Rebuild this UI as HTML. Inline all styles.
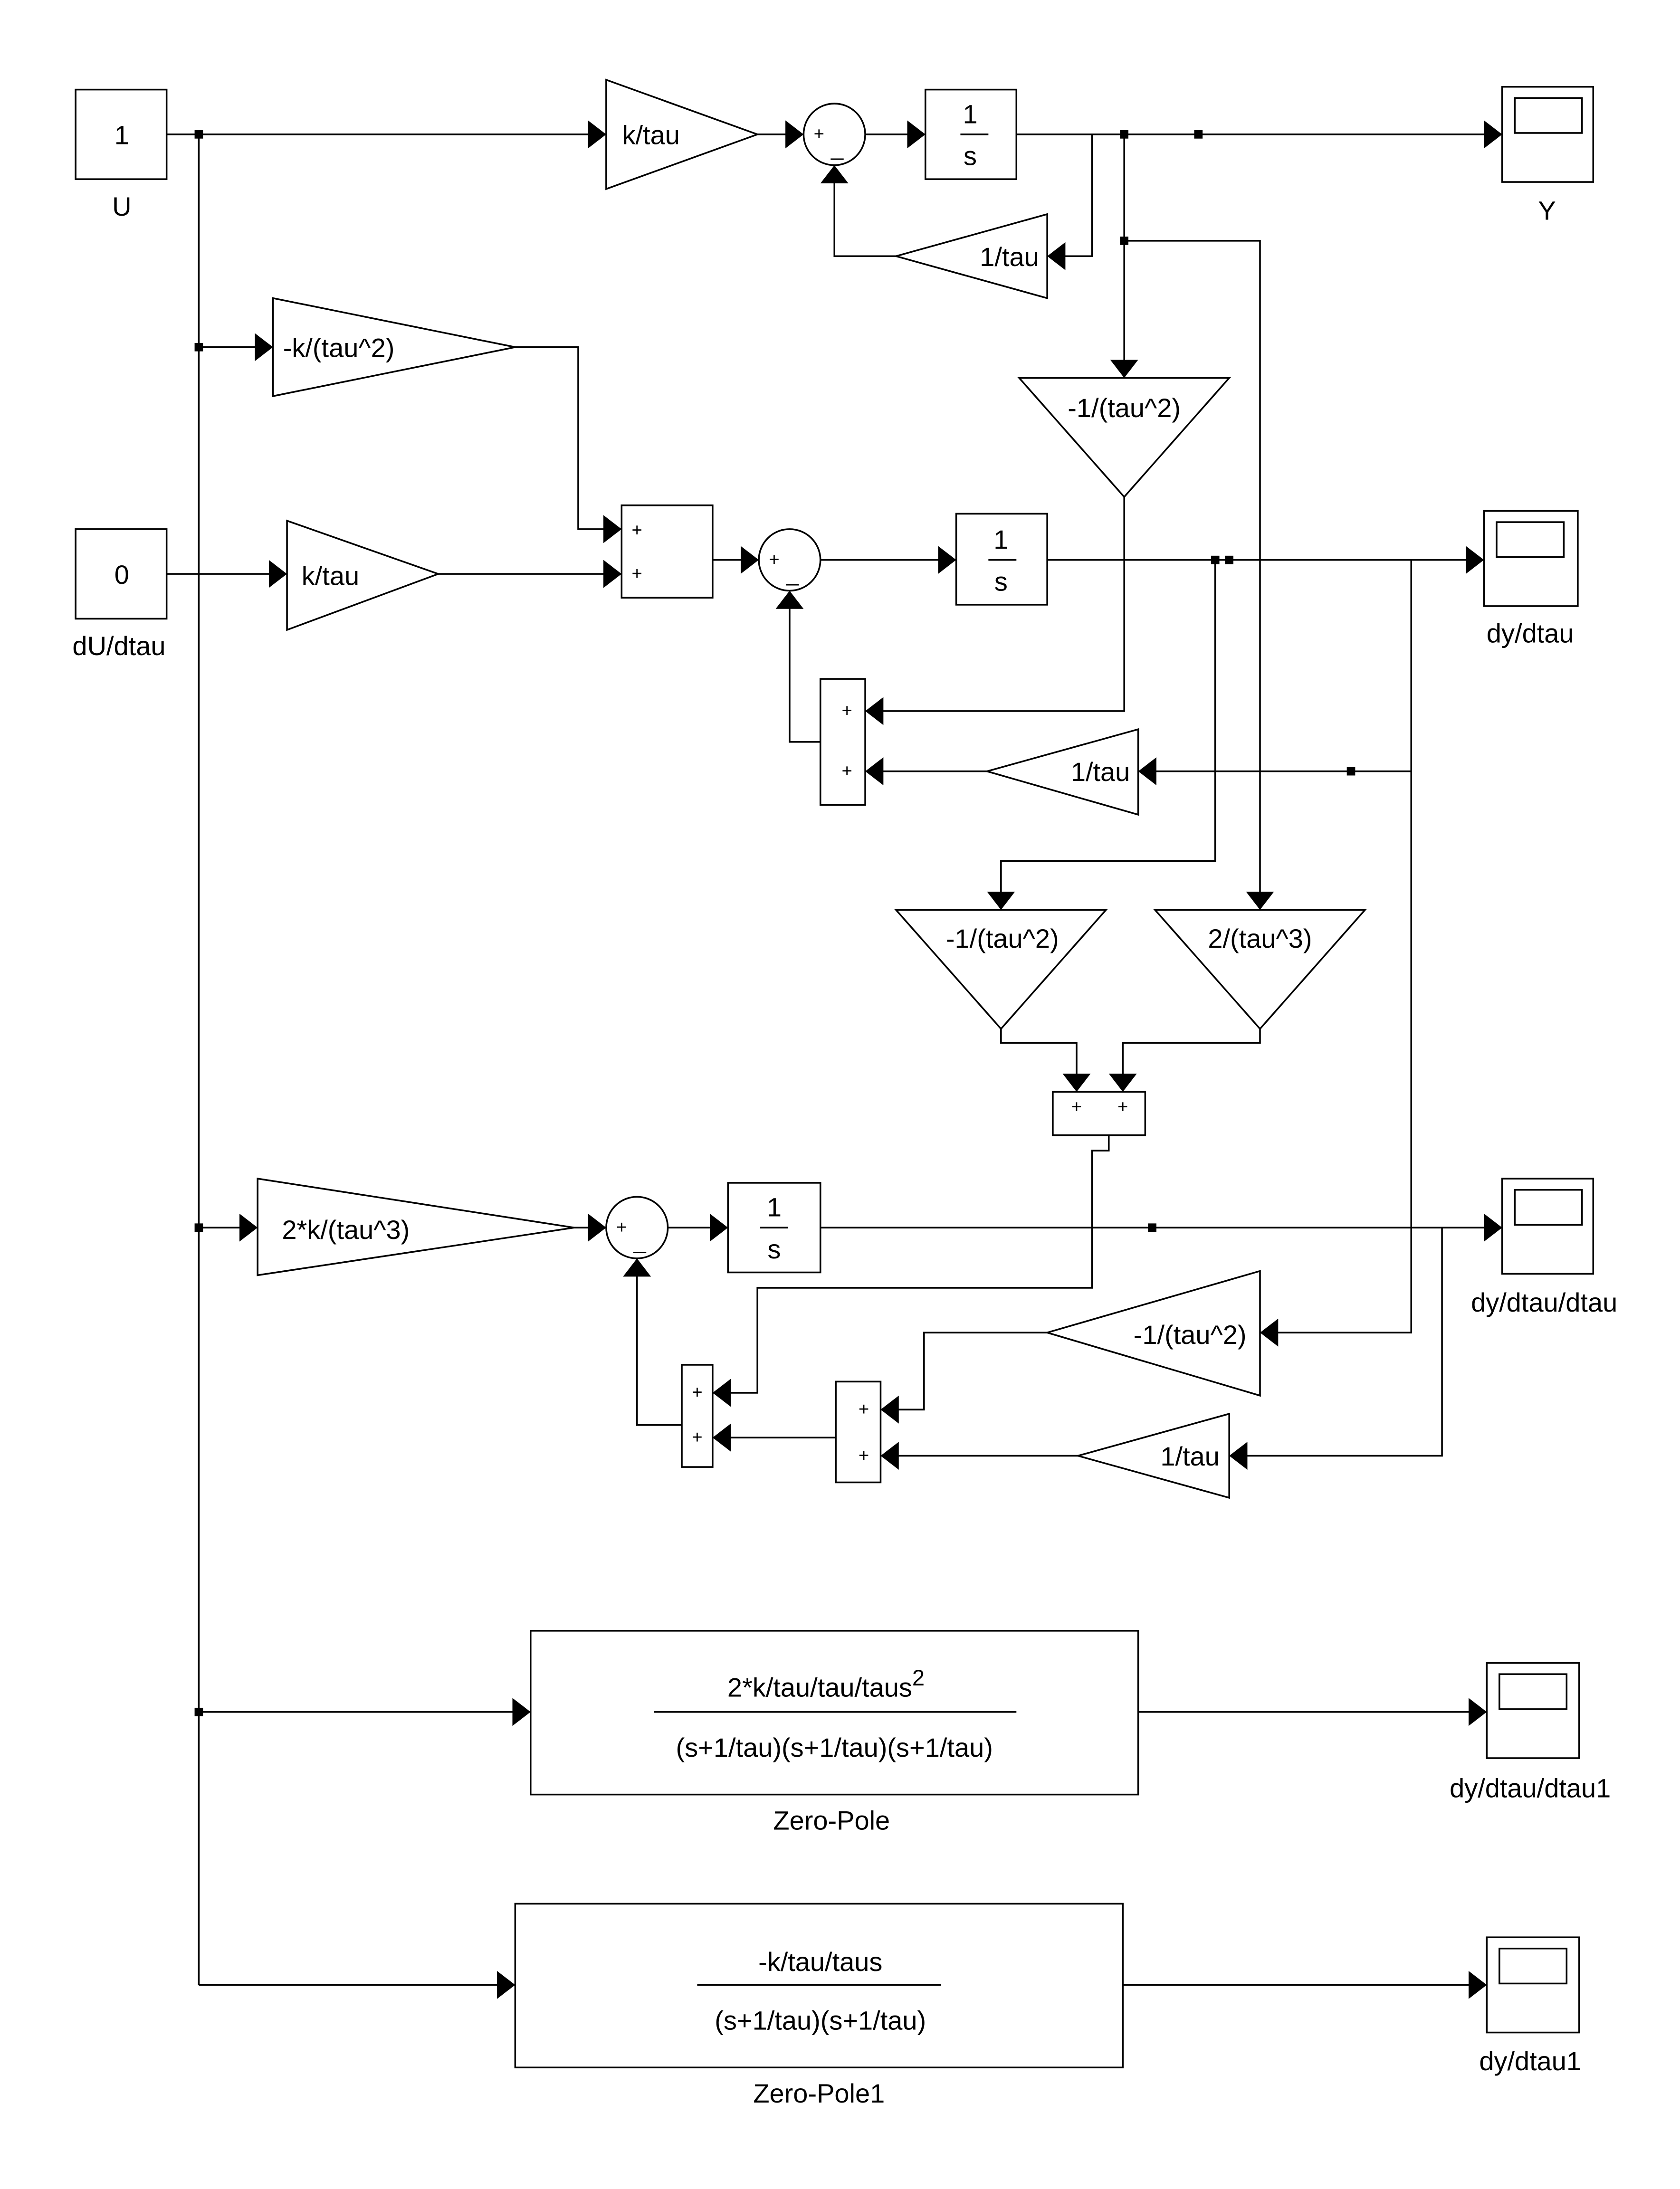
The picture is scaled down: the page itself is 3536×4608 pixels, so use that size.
<!DOCTYPE html>
<html><head><meta charset="utf-8"><style>html,body{margin:0;padding:0;background:#fff}svg{display:block}</style></head>
<body>
<svg xmlns="http://www.w3.org/2000/svg" width="3536" height="4608" viewBox="0 0 1200 1563.8">
<defs>
<marker id="a" markerUnits="userSpaceOnUse" markerWidth="14" markerHeight="20" refX="13" refY="10" orient="auto"><path d="M0,0 L13,10 L0,20z" fill="#000"/></marker>
</defs>
<rect width="1200" height="1563.8" fill="#fff"/>
<g fill="none" stroke="#000" stroke-width="1.2">
<!-- blocks -->
<rect x="54" y="64" width="65" height="64"/>
<rect x="54" y="378" width="65" height="64"/>
<polygon points="433,57 433,135 541,96"/>
<circle cx="596" cy="96" r="22"/>
<rect x="661" y="64" width="65" height="64"/>
<rect x="1073" y="62" width="65" height="68"/><rect x="1082" y="70" width="48" height="25"/>
<polygon points="748,153 748,213 640,183"/>
<polygon points="728,270 878,270 803,355"/>
<polygon points="195,213 195,283 368,248"/>
<rect x="444" y="361" width="65" height="66"/>
<polygon points="205,372 205,450 313,410"/>
<circle cx="564" cy="400" r="22"/>
<rect x="683" y="367" width="65" height="65"/>
<rect x="1060" y="365" width="67" height="68"/><rect x="1069" y="373" width="48" height="25"/>
<rect x="586" y="485" width="32" height="90"/>
<polygon points="813,521 813,582 705,551"/>
<polygon points="640,650 790,650 715,735"/>
<polygon points="825,650 975,650 900,735"/>
<rect x="752" y="780" width="66" height="31"/>
<polygon points="184,842 184,911 410,877"/>
<circle cx="455" cy="877" r="22"/>
<rect x="520" y="845" width="66" height="64"/>
<rect x="1073" y="842" width="65" height="68"/><rect x="1082" y="850" width="48" height="25"/>
<polygon points="900,908 900,997 748,952"/>
<rect x="487" y="975" width="22" height="73"/>
<rect x="597" y="987" width="32" height="72"/>
<polygon points="878,1010 878,1070 770,1040"/>
<rect x="379" y="1165" width="434" height="117"/>
<rect x="1062" y="1188" width="66" height="68"/><rect x="1071" y="1196" width="48" height="25"/>
<rect x="368" y="1360" width="434" height="117"/>
<rect x="1062" y="1384" width="66" height="68"/><rect x="1071" y="1392" width="48" height="25"/>
<!-- fraction lines -->
<line x1="686" y1="96" x2="706" y2="96"/><line x1="706" y1="400" x2="726" y2="400"/><line x1="543" y1="877" x2="563" y2="877"/>
<line x1="467" y1="1223" x2="726" y2="1223"/><line x1="498" y1="1418" x2="672" y2="1418"/>
<!-- wires -->
<line x1="142" y1="96" x2="142" y2="1418"/>
<polyline points="119,96 433,96" marker-end="url(#a)"/>
<polyline points="541,96 574,96" marker-end="url(#a)"/>
<polyline points="618,96 661,96" marker-end="url(#a)"/>
<polyline points="726,96 1073,96" marker-end="url(#a)"/>
<polyline points="780,96 780,183 748,183" marker-end="url(#a)"/>
<polyline points="640,183 596,183 596,118" marker-end="url(#a)"/>
<polyline points="803,96 803,270" marker-end="url(#a)"/>
<polyline points="803,172 900,172 900,650" marker-end="url(#a)"/>
<polyline points="142,248 195,248" marker-end="url(#a)"/>
<polyline points="368,248 413,248 413,378 444,378" marker-end="url(#a)"/>
<polyline points="119,410 205,410" marker-end="url(#a)"/>
<polyline points="313,410 444,410" marker-end="url(#a)"/>
<polyline points="509,400 542,400" marker-end="url(#a)"/>
<polyline points="586,400 683,400" marker-end="url(#a)"/>
<polyline points="748,400 1060,400" marker-end="url(#a)"/>
<polyline points="586,530 564,530 564,422" marker-end="url(#a)"/>
<polyline points="803,355 803,508 618,508" marker-end="url(#a)"/>
<polyline points="1008,400 1008,952 900,952" marker-end="url(#a)"/>
<polyline points="1008,551 813,551" marker-end="url(#a)"/>
<polyline points="705,551 618,551" marker-end="url(#a)"/>
<polyline points="868,400 868,615 715,615 715,650" marker-end="url(#a)"/>
<polyline points="715,735 715,745 769,745 769,780" marker-end="url(#a)"/>
<polyline points="900,735 900,745 802,745 802,780" marker-end="url(#a)"/>
<polyline points="792,811 792,822 780,822 780,920 541,920 541,995 509,995" marker-end="url(#a)"/>
<polyline points="142,877 184,877" marker-end="url(#a)"/>
<polyline points="410,877 433,877" marker-end="url(#a)"/>
<polyline points="477,877 520,877" marker-end="url(#a)"/>
<polyline points="586,877 1073,877" marker-end="url(#a)"/>
<polyline points="487,1018 455,1018 455,899" marker-end="url(#a)"/>
<polyline points="748,952 660,952 660,1007 629,1007" marker-end="url(#a)"/>
<polyline points="1030,877 1030,1040 878,1040" marker-end="url(#a)"/>
<polyline points="770,1040 629,1040" marker-end="url(#a)"/>
<polyline points="597,1027 509,1027" marker-end="url(#a)"/>
<polyline points="142,1223 379,1223" marker-end="url(#a)"/>
<polyline points="813,1223 1062,1223" marker-end="url(#a)"/>
<polyline points="142,1418 368,1418" marker-end="url(#a)"/>
<polyline points="802,1418 1062,1418" marker-end="url(#a)"/>
</g>
<g fill="#000">
<rect x="139" y="93" width="6" height="6"/><rect x="139" y="245" width="6" height="6"/><rect x="139" y="874" width="6" height="6"/><rect x="139" y="1220" width="6" height="6"/>
<rect x="800" y="93" width="6" height="6"/><rect x="853" y="93" width="6" height="6"/><rect x="800" y="169" width="6" height="6"/>
<rect x="865" y="397" width="6" height="6"/><rect x="875" y="397" width="6" height="6"/><rect x="962" y="548" width="6" height="6"/><rect x="820" y="874" width="6" height="6"/>
</g>
<g font-family="Liberation Sans, sans-serif" font-size="19" fill="#000" text-anchor="middle">
<text x="87" y="103">1</text><text x="87" y="154">U</text>
<text x="87" y="417">0</text><text x="85" y="468">dU/dtau</text>
<text x="465" y="103">k/tau</text>
<text x="693" y="88">1</text><text x="693" y="118">s</text>
<text x="1105" y="157">Y</text>
<text x="721" y="190">1/tau</text>
<text x="242" y="255">-k/(tau^2)</text>
<text x="236" y="418">k/tau</text>
<text x="803" y="298">-1/(tau^2)</text>
<text x="715" y="392">1</text><text x="715" y="422">s</text>
<text x="1093" y="459">dy/dtau</text>
<text x="786" y="558">1/tau</text>
<text x="716" y="677">-1/(tau^2)</text>
<text x="900" y="677">2/(tau^3)</text>
<text x="247" y="885">2*k/(tau^3)</text>
<text x="553" y="869">1</text><text x="553" y="899">s</text>
<text x="1103" y="937">dy/dtau/dtau</text>
<text x="850" y="960">-1/(tau^2)</text>
<text x="850" y="1047">1/tau</text>
<text x="590" y="1212">2*k/tau/tau/taus<tspan dy="-8" font-size="16">2</tspan></text>
<text x="596" y="1255">(s+1/tau)(s+1/tau)(s+1/tau)</text>
<text x="594" y="1307">Zero-Pole</text>
<text x="1093" y="1284">dy/dtau/dtau1</text>
<text x="586" y="1408">-k/tau/taus</text>
<text x="586" y="1450">(s+1/tau)(s+1/tau)</text>
<text x="585" y="1502">Zero-Pole1</text>
<text x="1093" y="1479">dy/dtau1</text>
</g>
<g font-family="Liberation Sans, sans-serif" font-size="13" fill="#000" text-anchor="middle">
<text x="585" y="100">+</text><text x="598" y="111" font-size="16">_</text>
<text x="553" y="404">+</text><text x="566" y="415" font-size="16">_</text>
<text x="444" y="881">+</text><text x="457" y="892" font-size="16">_</text>
<text x="455" y="383">+</text><text x="455" y="414">+</text>
<text x="605" y="512">+</text><text x="605" y="555">+</text>
<text x="769" y="795">+</text><text x="802" y="795">+</text>
<text x="498" y="999">+</text><text x="498" y="1031">+</text>
<text x="617" y="1011">+</text><text x="617" y="1044">+</text>
</g>
</svg>
</body></html>
